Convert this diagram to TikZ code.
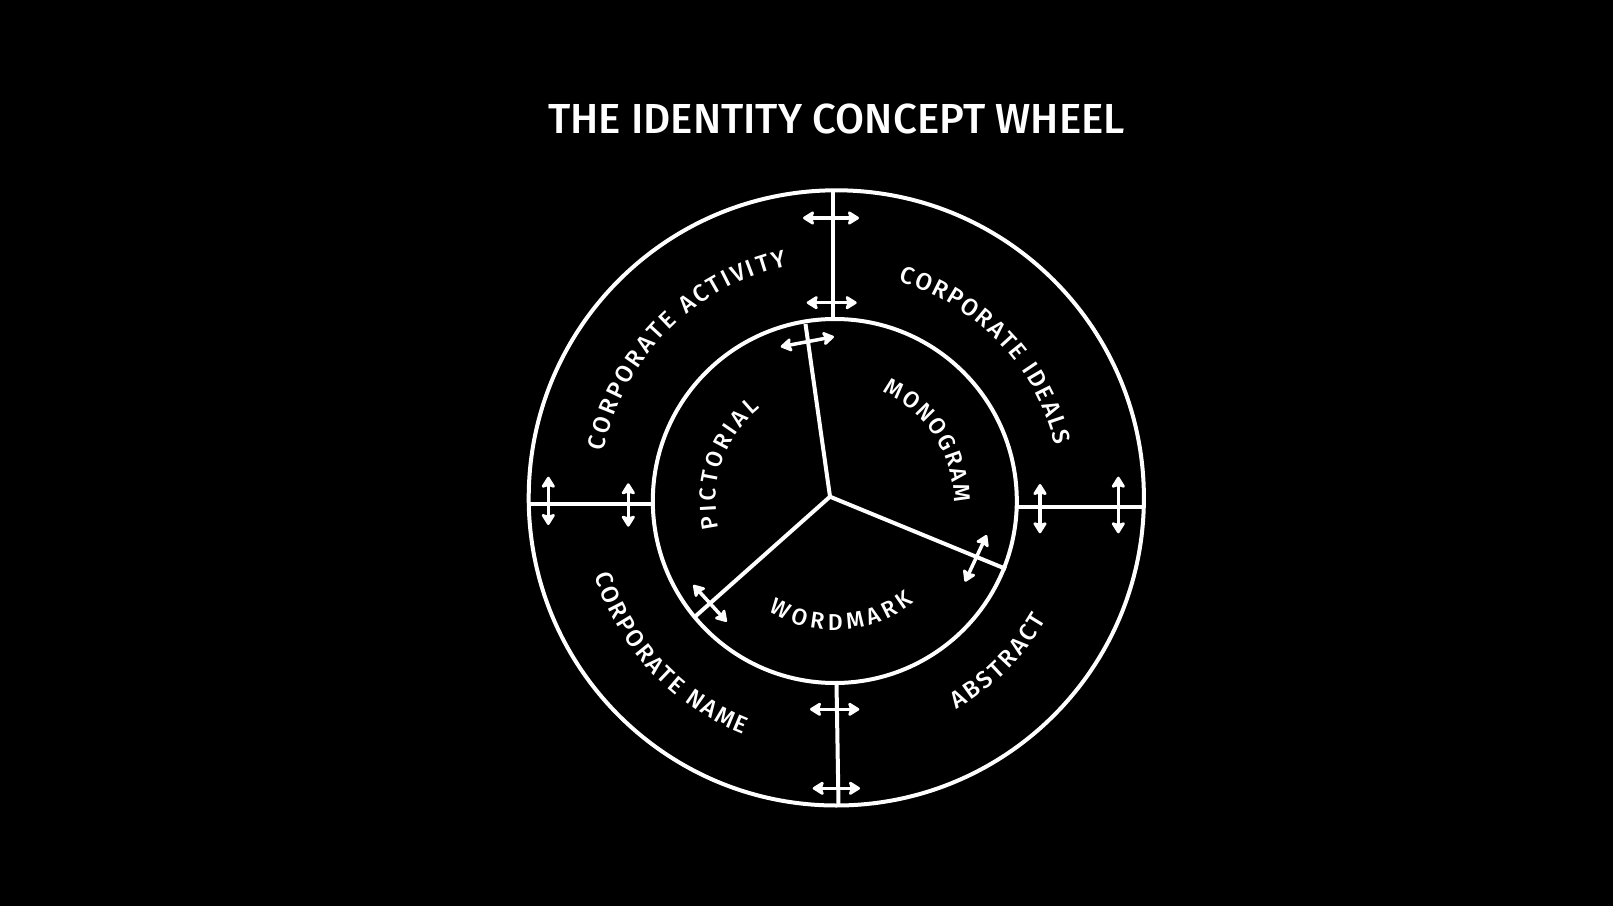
\documentclass[tikz,border=0pt]{standalone}
\usepackage{fontspec}
\setmainfont{Fira Sans Medium}
\usetikzlibrary{arrows.meta,decorations.text,calc}
\newcommand{\ringfont}{\fontsize{24}{24}\selectfont}
\newcommand{\innerfont}{\fontsize{23}{23}\selectfont}
\begin{document}
\begin{tikzpicture}[x=1pt,y=1pt,
  ring/.style={draw=white, line width=4pt},
  dbl/.style={draw=white, line width=3.5pt,
    {Stealth[round,inset=2.5pt,length=13pt,width=16pt]}-{Stealth[round,inset=2.5pt,length=13pt,width=16pt]}},
  curvelbl/.style={decorate, decoration={text along path, text color=white,
    text align=fit to path, text={#1}}},
  titlestyle/.style={text=white, font=\fontsize{42}{42}\selectfont, inner sep=0pt}
]
\fill[black] (0,0) rectangle (1613,906);
\useasboundingbox (0,0) rectangle (1613,906);

% centres
\coordinate (oc) at (836.3,408.1);
\coordinate (ic) at (834.8,405);
\coordinate (hub) at (830,409.3);

% title
\node[titlestyle] (title) at (836.5,787.5) {THE IDENTITY CONCEPT WHEEL};

% rings
\draw[ring] (oc) circle[radius=307.6];
\draw[ring] (ic) circle[radius=182];

% dividers
\coordinate (dt1) at (833.3,714.3); \coordinate (dt2) at (833.3,588);
\coordinate (dl1) at (528.8,401.7); \coordinate (dl2) at (652.8,401.7);
\coordinate (dr1) at (1016.8,399.3); \coordinate (dr2) at (1143.8,399.3);
\coordinate (db1) at (836.5,223); \coordinate (db2) at (838.5,100.5);
\draw[ring] (dt1) -- (dt2);
\draw[ring] (dl1) -- (dl2);
\draw[ring] (dr1) -- (dr2);
\draw[ring] (db1) -- (db2);

% spokes
\coordinate (s1) at (805.5,582);
\coordinate (s2) at (695,289.3);
\coordinate (s3) at (1006,337);
\draw[ring] (hub) -- (s1);
\draw[ring] (hub) -- (s2);
\draw[ring] (hub) -- (s3);

% arrows
\coordinate (t1a) at (803,688);   \coordinate (t1b) at (859,688);
\coordinate (t2a) at (806.7,603.3); \coordinate (t2b) at (856.7,603.3);
\coordinate (l1a) at (548.3,429.3); \coordinate (l1b) at (548.3,381);
\coordinate (l2a) at (628.3,422.7); \coordinate (l2b) at (628.3,379.3);
\coordinate (r1a) at (1040,422);  \coordinate (r1b) at (1040,372.7);
\coordinate (r2a) at (1118.3,429.3); \coordinate (r2b) at (1118.3,372.7);
\coordinate (b1a) at (810,196.7); \coordinate (b1b) at (859.3,196.7);
\coordinate (b2a) at (812.7,117.7); \coordinate (b2b) at (860,117.7);
\coordinate (s1a) at (780.7,559.3); \coordinate (s1b) at (834,569.3);
\coordinate (s2a) at (693.3,321); \coordinate (s2b) at (726.7,284.3);
\coordinate (s3a) at (986.7,371); \coordinate (s3b) at (965,324.3);
\foreach \p in {t1,t2,l1,l2,r1,r2,b1,b2,s1,s2,s3}{
  \draw[dbl] (\p a) -- (\p b);
}

% outer ring labels
\path[curvelbl={|\ringfont|CORPORATE ACTIVITY}]
  ($(oc)+(168.6:237)$) arc[start angle=168.6, end angle=102, radius=237];
\path[curvelbl={|\ringfont|CORPORATE IDEALS}]
  ($(oc)+(73.9:225)$) arc[start angle=73.9, end angle=13.4, radius=225];
\path[curvelbl={|\ringfont|CORPORATE NAME}]
  ($(oc)+(197.9:254)$) arc[start angle=197.9, end angle=248.6, radius=254];
\path[curvelbl={|\ringfont|ABSTRACT}]
  ($(oc)+(-60.4:243)$) arc[start angle=-60.4, end angle=-30.1, radius=243];

% inner labels
\path[curvelbl={|\innerfont|PICTORIAL}]
  ($(ic)+(193.1:119)$) arc[start angle=193.1, end angle=128.7, radius=119];
\path[curvelbl={|\innerfont|MONOGRAM}]
  ($(ic)+(66.5:119)$) arc[start angle=66.5, end angle=-0.9, radius=119];
\path[curvelbl={|\innerfont|WORDMARK}]
  ($(ic)+(239:129)$) arc[start angle=239, end angle=308, radius=129];
\end{tikzpicture}
\end{document}
